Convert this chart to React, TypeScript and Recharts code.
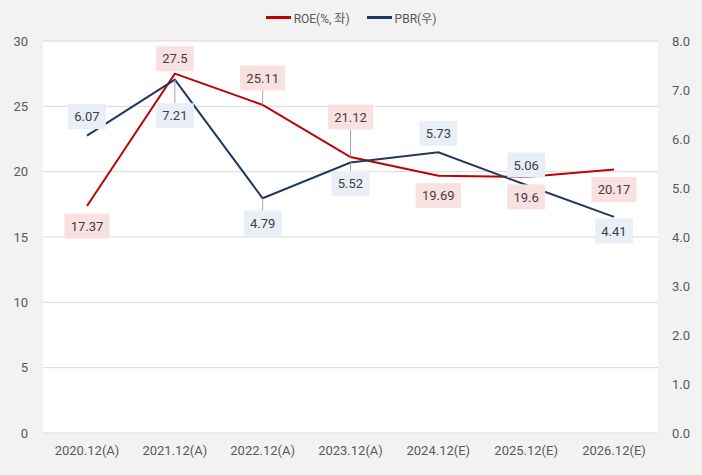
import React from 'react';
import {
  LineChart,
  Line,
  XAxis,
  YAxis,
  CartesianGrid,
  Legend,
  LabelList,
} from 'recharts';

// 데이터
const categories = [
  '2020.12(A)',
  '2021.12(A)',
  '2022.12(A)',
  '2023.12(A)',
  '2024.12(E)',
  '2025.12(E)',
  '2026.12(E)',
];
const roeValues = [17.37, 27.5, 25.11, 21.12, 19.69, 19.6, 20.17];
const pbrValues = [6.07, 7.21, 4.79, 5.52, 5.73, 5.06, 4.41];
const leftTicks = [0, 5, 10, 15, 20, 25, 30];
const rightTicks = [0, 1, 2, 3, 4, 5, 6, 7, 8];

// 라벨 위치 (점 기준 세로 오프셋)
const roeLabelDy = [20, -15, -27, -40, 20, 20, 20];
const pbrLabelDy = [-19, 36, 25, 21, -19, -20, 14];

const ROE_COLOR = '#c00000';
const PBR_COLOR = '#203864';
const FONT = 'Roboto, "Noto Sans CJK KR", sans-serif';

const chartData = categories.map((name, i) => ({
  name,
  roe: roeValues[i],
  pbr: pbrValues[i],
}));

const textWidth = (s: string): number => {
  let w = 0;
  for (const ch of s) w += ch === '.' ? 3.6 : 7.4;
  return w;
};

const makeLabel = (offsets: number[], boxFill: string) => (props: any) => {
  const { x, y, value, index } = props;
  if (x == null || y == null) return null;
  const text = String(value);
  const dy = offsets[index] ?? 0;
  const w = textWidth(text) + 12;
  const h = 25;
  const cy = y + dy;
  const gap = Math.abs(dy) - h / 2;
  const edge = dy > 0 ? cy - h / 2 : cy + h / 2;
  return (
    <g>
      {gap > 8 && (
        <line x1={x} y1={y} x2={x} y2={edge} stroke="#a6a6a6" strokeWidth={1} />
      )}
      <rect x={x - w / 2} y={cy - h / 2} width={w} height={h} fill={boxFill} />
      <text
        x={x}
        y={cy}
        dy="0.36em"
        textAnchor="middle"
        fontSize={13}
        fill="#404040"
        fontFamily={FONT}
      >
        {text}
      </text>
    </g>
  );
};

const renderLegend = () => (
  <div
    style={{
      display: 'flex',
      justifyContent: 'center',
      alignItems: 'center',
      fontSize: 12,
      color: '#595959',
      fontFamily: FONT,
    }}
  >
    {[
      { label: 'ROE(%, 좌)', color: ROE_COLOR },
      { label: 'PBR(우)', color: PBR_COLOR },
    ].map((item, i) => (
      <div
        key={item.label}
        style={{ display: 'flex', alignItems: 'center', marginLeft: i ? 17 : 0 }}
      >
        <span
          style={{
            display: 'inline-block',
            width: 25,
            height: 2.5,
            background: item.color,
            marginRight: 3,
          }}
        />
        <span>{item.label}</span>
      </div>
    ))}
  </div>
);

export default function App() {
  return (
    <div
      style={{
        position: 'absolute',
        left: 0,
        top: 0,
        width: 702,
        height: 475,
        background: '#f2f2f2',
      }}
    >
      <LineChart
        width={702}
        height={475}
        data={chartData}
        margin={{ top: 41, right: 0, bottom: 12, left: 0 }}
      >
        <CartesianGrid
          vertical={false}
          stroke="#d9d9d9"
          fill="#ffffff"
          yAxisId="left"
        />
        <XAxis
          dataKey="name"
          axisLine={false}
          tickLine={false}
          tickSize={0}
          tickMargin={13}
          height={30}
          padding={{ left: 44, right: 44 }}
          interval={0}
          tick={{ fontSize: 13, fill: '#595959', fontFamily: FONT }}
        />
        <YAxis
          yAxisId="left"
          orientation="left"
          width={43}
          domain={[0, 30]}
          ticks={leftTicks}
          axisLine={false}
          tickLine={false}
          tickSize={0}
          tickMargin={15}
          tick={{ fontSize: 13, fill: '#595959', fontFamily: FONT }}
        />
        <YAxis
          yAxisId="right"
          orientation="right"
          width={44}
          domain={[0, 8]}
          ticks={rightTicks}
          axisLine={false}
          tickLine={false}
          tickSize={0}
          tickMargin={14}
          tickFormatter={(v) => Number(v).toFixed(1)}
          tick={{ fontSize: 13, fill: '#595959', fontFamily: FONT }}
        />
        <Legend
          verticalAlign="middle"
          wrapperStyle={{ top: 9 }}
          content={renderLegend}
        />
        <Line
          yAxisId="left"
          dataKey="roe"
          name="ROE(%, 좌)"
          stroke={ROE_COLOR}
          strokeWidth={2}
          dot={false}
          activeDot={false}
          isAnimationActive={false}
        >
          <LabelList dataKey="roe" content={makeLabel(roeLabelDy, '#f9e1e1')} />
        </Line>
        <Line
          yAxisId="right"
          dataKey="pbr"
          name="PBR(우)"
          stroke={PBR_COLOR}
          strokeWidth={2}
          dot={false}
          activeDot={false}
          isAnimationActive={false}
        >
          <LabelList dataKey="pbr" content={makeLabel(pbrLabelDy, '#e9eef7')} />
        </Line>
      </LineChart>
    </div>
  );
}
